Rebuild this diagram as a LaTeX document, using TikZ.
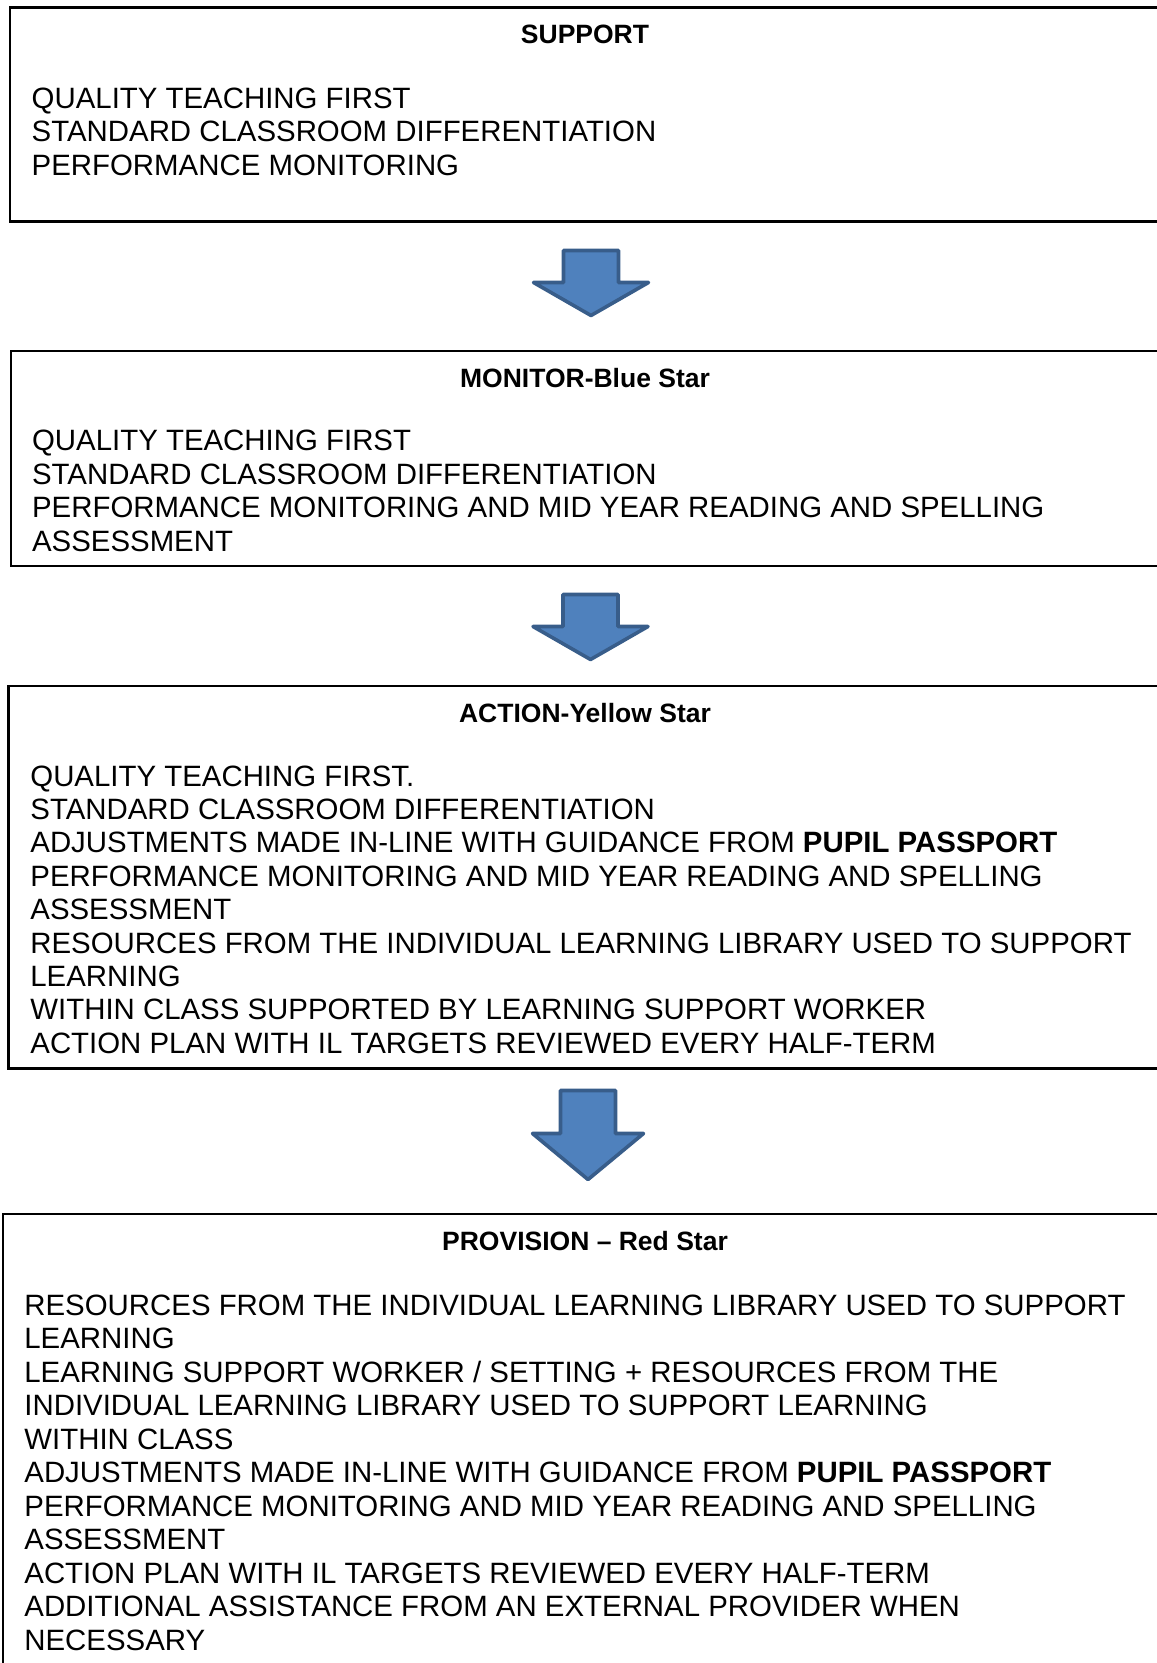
\documentclass[tikz,border=0pt]{standalone}
\usepackage{fontspec}
\setmainfont{Liberation Sans}
\definecolor{arrowfill}{HTML}{4F81BD}
\definecolor{arrowline}{HTML}{385D8A}
\tikzset{
  boxframe/.style={draw=black, line width=1.2pt},
  titletext/.style={inner sep=0pt, anchor=base, font=\fontsize{13.25}{15}\selectfont\bfseries},
  bodytext/.style={inner sep=0pt, anchor=base west, font=\fontsize{14.7}{16.8}\selectfont},
  blockarrowstyle/.style={fill=arrowfill, draw=arrowline, line width=1.8pt, line join=round}
}
\newcommand{\myblockarrow}[6]{% cx, top, base, tip, shaft half width, head half width
  \path[blockarrowstyle] ({#1-#5},#2) -- ({#1+#5},#2) -- ({#1+#5},#3) -- ({#1+#6},#3)
    -- (#1,#4) -- ({#1-#6},#3) -- ({#1-#5},#3) -- cycle;}
\begin{document}
\begin{tikzpicture}[x=0.5pt,y=-0.5pt]
\useasboundingbox (0,0) rectangle (1156,1663);
% box 1
\draw[boxframe] (9.8,7.5) rectangle (1162,221.7);
\node[titletext] (t1) at (585,44) {SUPPORT};
\foreach \t [count=\i] in {QUALITY TEACHING FIRST, STANDARD CLASSROOM DIFFERENTIATION, PERFORMANCE MONITORING}
  \node[bodytext] (b1l\i) at (31.3,{108.3+33.4*(\i-1)}) {\t};
\myblockarrow{591}{250.5}{282.5}{315.5}{27.5}{57.5}
% box 2
\draw[boxframe] (10.7,351) rectangle (1162,565.7);
\node[titletext] (t2) at (585,387.5) {MONITOR-Blue Star};
\foreach \t [count=\i] in {QUALITY TEACHING FIRST, STANDARD CLASSROOM DIFFERENTIATION, PERFORMANCE MONITORING AND MID YEAR READING AND SPELLING, ASSESSMENT}
  \node[bodytext] (b2l\i) at (31.7,{450.7+33.6*(\i-1)}) {\t};
\myblockarrow{590.5}{594.5}{626.5}{659.5}{27.5}{57.5}
% box 3
\draw[boxframe] (8.3,685.7) rectangle (1162,1068.3);
\node[titletext] (t3) at (585,722) {ACTION-Yellow Star};
\foreach \t [count=\i] in {QUALITY TEACHING FIRST., STANDARD CLASSROOM DIFFERENTIATION, {ADJUSTMENTS MADE IN-LINE WITH GUIDANCE FROM \textbf{PUPIL PASSPORT}}, PERFORMANCE MONITORING AND MID YEAR READING AND SPELLING, ASSESSMENT, RESOURCES FROM THE INDIVIDUAL LEARNING LIBRARY USED TO SUPPORT, LEARNING, WITHIN CLASS SUPPORTED BY LEARNING SUPPORT WORKER, ACTION PLAN WITH IL TARGETS REVIEWED EVERY HALF-TERM}
  \node[bodytext] (b3l\i) at (30,{786+33.4*(\i-1)}) {\t};
\myblockarrow{588}{1090.5}{1133.5}{1179.5}{27.5}{55.5}
% box 4
\draw[boxframe] (2.7,1214) rectangle (1162,1672);
\node[titletext] (t4) at (585,1250.5) {PROVISION -- Red Star};
\foreach \t [count=\i] in {RESOURCES FROM THE INDIVIDUAL LEARNING LIBRARY USED TO SUPPORT, LEARNING, LEARNING SUPPORT WORKER / SETTING + RESOURCES FROM THE, INDIVIDUAL LEARNING LIBRARY USED TO SUPPORT LEARNING, WITHIN CLASS, {ADJUSTMENTS MADE IN-LINE WITH GUIDANCE FROM \textbf{PUPIL PASSPORT}}, PERFORMANCE MONITORING AND MID YEAR READING AND SPELLING, ASSESSMENT, ACTION PLAN WITH IL TARGETS REVIEWED EVERY HALF-TERM, ADDITIONAL ASSISTANCE FROM AN EXTERNAL PROVIDER WHEN, NECESSARY}
  \node[bodytext] (b4l\i) at (24,{1315+33.5*(\i-1)}) {\t};
\end{tikzpicture}
\end{document}
